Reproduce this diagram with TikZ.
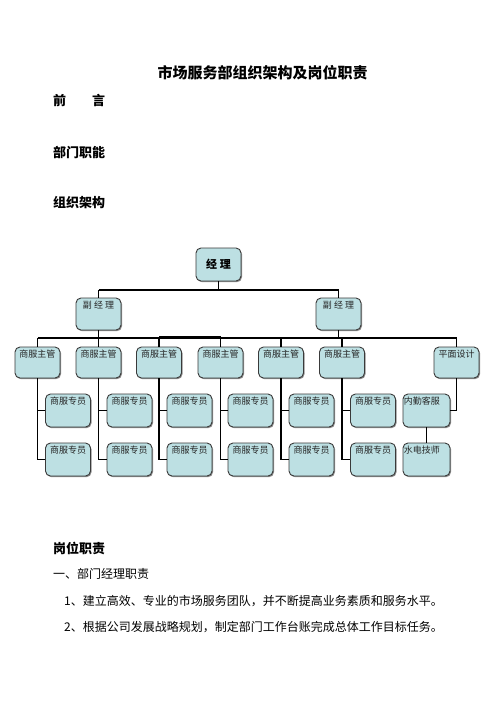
\documentclass[tikz,border=0pt]{standalone}
\usepackage{fontspec}
\newfontfamily\cjk{Noto Sans CJK SC}
\usetikzlibrary{shadows}
\definecolor{boxfill}{HTML}{BDE0E3}
\definecolor{boxline}{HTML}{3A3A3A}
\tikzset{
  x=1pt,y=-1pt,
  box/.style={draw=boxline,line width=0.9pt,fill=boxfill,rounded corners=5pt,
    minimum width=45pt,minimum height=32pt,inner sep=0pt,
    drop shadow={shadow xshift=1pt,shadow yshift=-1.2pt,opacity=0.45,fill=black}},
  lbl/.style={font=\cjk\fontsize{9}{10}\selectfont,text=black!85,inner sep=0pt,yshift=-3pt},
  toplbl/.style={label={[lbl,anchor=north]north:{#1}}},
  leftlbl/.style={label={[lbl,anchor=north west,xshift=1pt]north west:{#1}}},
  conn/.style={line width=1.8pt,black},
  txt/.style={anchor=west,inner sep=0pt,font=\cjk\fontsize{12}{14}\selectfont},
  hd/.style={anchor=west,inner sep=0pt,font=\cjk\bfseries\fontsize{13}{15}\selectfont},
}
\begin{document}
\begin{tikzpicture}
\useasboundingbox[fill=white] (0,0) rectangle (496,702);
% texts
\node[anchor=center,inner sep=0pt,font=\cjk\bfseries\fontsize{15}{17}\selectfont] (title) at (262.5,73) {市场服务部组织架构及岗位职责};
\node[hd] (h1) at (53,100) {前　　言};
\node[hd] (h2) at (53,152) {部门职能};
\node[hd] (h3) at (53,203) {组织架构};
\node[hd] (h4) at (53,548) {岗位职责};
\node[txt] (t1) at (53,574) {一、部门经理职责};
\node[txt] (t2) at (64,601) {1、建立高效、专业的市场服务团队，并不断提高业务素质和服务水平。};
\node[txt] (t3) at (64,627) {2、根据公司发展战略规划，制定部门工作台账完成总体工作目标任务。};

% boxes
\node[box,minimum height=33pt,font=\cjk\bfseries\fontsize{11}{12}\selectfont] (m) at (218.5,264.5) {经 理};
\node[box,toplbl={副 经 理}] (d1) at (98.5,314) {};
\node[box,toplbl={副 经 理}] (d2) at (338.5,314) {};
\foreach \n/\x in {1/37.5,2/98.5,3/159,4/220.5,5/281,6/342}{
  \node[box,minimum height=31pt,toplbl=商服主管] (s\n) at (\x,362.5) {};
}
\node[box,minimum height=31pt,toplbl=平面设计] (s7) at (456.5,362.5) {};
\foreach \n/\x in {1/68,2/129.5,3/189.5,4/250.5,5/311.5,6/373}{
  \node[box,minimum height=33pt,toplbl=商服专员] (a\n) at (\x,410.5) {};
  \node[box,minimum height=33pt,toplbl=商服专员] (b\n) at (\x,459.5) {};
}
\node[box,minimum width=47pt,minimum height=33pt,leftlbl=内勤客服] (n1) at (426.5,410.5) {};
\node[box,minimum width=47pt,minimum height=33pt,leftlbl=水电技师] (n2) at (426.5,459.5) {};

% connectors
\coordinate (bus1) at (99,290);
\coordinate (bus2) at (339,290);
\coordinate (sb) at (0,338);
\draw[conn] (m.south) -- (m.south |- bus1);
\draw[conn] (bus1 -| d1.north) -- (bus2 -| d2.north);
\draw[conn] (bus1 -| d1.north) -- (d1.north);
\draw[conn] (bus2 -| d2.north) -- (d2.north);
\draw[conn] (d1.south) -- (d1.south |- sb);
\draw[conn] (d2.south) -- (d2.south |- sb);
\draw[conn,line width=1.4pt] (sb -| s1.north) -- (sb -| s7.north);
\draw[conn,line width=1.4pt] ([yshift=1.6pt]sb -| s3.north) -- ([yshift=1.6pt]sb -| s4.north);
\foreach \n in {1,...,7}{\draw[conn,line width=1.4pt] (sb -| s\n.north) -- (s\n.north);}
\foreach \n in {1,...,6}{
  \draw[conn] (s\n.south) |- (b\n.west);
  \draw[conn] (s\n.south |- a\n.west) -- (a\n.west);
}
\draw[conn] (s7.south) |- (n1.east);
\draw[conn] (n1.south) -- (n2.north);
\end{tikzpicture}
\end{document}
